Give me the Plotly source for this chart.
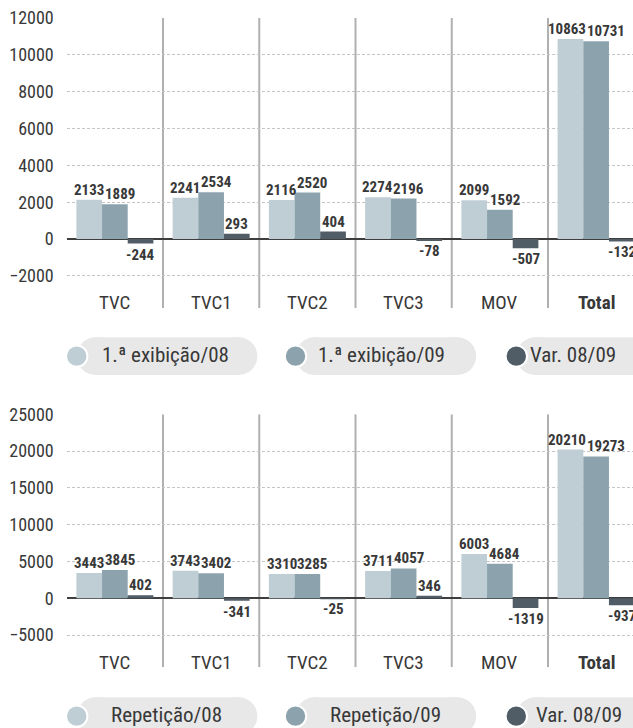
import plotly.graph_objects as go
from plotly.subplots import make_subplots

categories = ["TVC", "TVC1", "TVC2", "TVC3", "MOV", "Total"]
first_08 = [2133, 2241, 2116, 2274, 2099, 10863]
first_09 = [1889, 2534, 2520, 2196, 1592, 10731]
first_var = [-244, 293, 404, -78, -507, -132]
rep_08 = [3443, 3743, 3310, 3711, 6003, 20210]
rep_09 = [3845, 3402, 3285, 4057, 4684, 19273]
rep_var = [402, -341, -25, 346, -1319, -937]
legend_top = ["1.ª exibição/08", "1.ª exibição/09", "Var. 08/09"]
legend_bottom = ["Repetição/08", "Repetição/09", "Var. 08/09"]

W, H = 633, 728
FONT = "Roboto Condensed, DejaVu Sans Condensed, sans-serif"
TXT = "#383838"
COLORS = ["#bfcdd4", "#8ca3ae", "#505d66"]
CAT_W = 96.25          # px width of one category
BAR_W = CAT_W * 0.8 / 3


def px(x):
    return x / W


def py(y):
    return 1 - y / H


fig = make_subplots(rows=2, cols=1)
annotations = []

for row, series in ((1, [first_08, first_09, first_var]), (2, [rep_08, rep_09, rep_var])):
    xa = "x" if row == 1 else "x2"
    ya = "y" if row == 1 else "y2"
    for k, (vals, col) in enumerate(zip(series, COLORS)):
        fig.add_trace(go.Bar(
            x=categories, y=vals,
            marker=dict(color=col, line=dict(width=0)), showlegend=False,
        ), row=row, col=1)
        # value labels, nudged apart like the original
        for i, (c, v) in enumerate(zip(categories, vals)):
            shift = (k - 1) * BAR_W
            if k == 1:
                shift += 10 if c == "Total" else 5
            elif k == 0 and c == "Total":
                shift -= 3
            annotations.append(dict(
                x=c, y=v, xref=xa, yref=ya, text=str(v), showarrow=False,
                xanchor="center", yanchor="bottom" if v >= 0 else "top",
                xshift=shift, yshift=-1 if v >= 0 else 0,
                font=dict(family=FONT, size=15, color=TXT, weight="bold")))

xr = [-0.5, -0.5 + (633 - 66.75) / CAT_W]
axis_common = dict(showline=False, showgrid=False, zeroline=False, showticklabels=False,
                   ticks="", range=xr, domain=[px(66.75), 1], automargin=False)
fig.update_layout(
    xaxis=dict(**axis_common, anchor="y"),
    xaxis2=dict(**axis_common, anchor="y2"),
)
yc = dict(showline=False, showgrid=True, gridcolor="#c4c4c4", griddash="3px,2px", gridwidth=1,
          zeroline=True, zerolinecolor="#3e3e3e", zerolinewidth=2, tickformat="d", automargin=False,
          tickfont=dict(family=FONT, size=18, color=TXT), ticks="", ticklabelstandoff=12)
fig.update_layout(
    yaxis=dict(**yc, range=[-3745, 12000], dtick=2000, domain=[py(308), py(18)], anchor="x"),
    yaxis2=dict(**yc, range=[-9375, 25000], dtick=5000, domain=[py(667.3), py(414.3)], anchor="x2"),
)

shapes = []
# category dividers
for xa, ya, top, bot in (("x", "y", 12000, -3745), ("x2", "y2", 25000, -9375)):
    for i in range(len(categories) - 1):
        shapes.append(dict(type="line", xref=xa, yref=ya, x0=i + 0.5, x1=i + 0.5, y0=top, y1=bot,
                           line=dict(color="#b0b0b0", width=2), layer="below"))

# category labels
for xa, ylab in (("x", 302.5), ("x2", 662.5)):
    for i, c in enumerate(categories):
        label = f"<b>{c}</b>" if c == "Total" else c
        annotations.append(dict(x=i, xref=xa, y=py(ylab), yref="paper", text=label, showarrow=False,
                                xanchor="center", yanchor="middle",
                                font=dict(family=FONT, size=19, color=TXT)))

# legends (pills)
circle_cx = [76.7, 295.5, 516.3]
pill_w = 180.7
pill_h = 37.7
r_c = 10.7
for labels, pill_top, text_cx in ((legend_top, 337.3, [165.5, 381.5, 573]),
                                  (legend_bottom, 697.3, [166.7, 385, 579.3])):
    cy = pill_top + pill_h / 2
    rr = pill_h / 2
    for cx in circle_cx:
        x0, x1 = cx, cx + pill_w
        shapes.append(dict(type="rect", xref="paper", yref="paper", x0=px(x0 + rr), x1=px(x1 - rr),
                           y0=py(pill_top + pill_h), y1=py(pill_top), fillcolor="#e8e8e8",
                           line=dict(width=0)))
        for ex in (x0 + rr, x1 - rr):
            shapes.append(dict(type="circle", xref="paper", yref="paper", x0=px(ex - rr), x1=px(ex + rr),
                               y0=py(cy + rr), y1=py(cy - rr), fillcolor="#e8e8e8", line=dict(width=0)))
    for cx, col in zip(circle_cx, COLORS):
        shapes.append(dict(type="circle", xref="paper", yref="paper", x0=px(cx - r_c), x1=px(cx + r_c),
                           y0=py(cy + r_c), y1=py(cy - r_c), fillcolor=col,
                           line=dict(color="white", width=2)))
    for lab, tx in zip(labels, text_cx):
        annotations.append(dict(x=px(tx), y=py(cy - 1), xref="paper", yref="paper", text=lab,
                                showarrow=False, xanchor="center", yanchor="middle",
                                font=dict(family=FONT, size=21, color=TXT)))

fig.update_layout(
    width=W, height=H, autosize=False,
    margin=dict(l=0, r=0, t=0, b=0, pad=0, autoexpand=False),
    paper_bgcolor="white", plot_bgcolor="white",
    barmode="group", bargap=0.2, bargroupgap=0,
    shapes=shapes, annotations=annotations,
    font=dict(family=FONT, color=TXT),
)

fig.write_html("out.html", config={"displayModeBar": False},
               post_script="document.body.style.margin='0';document.body.style.overflow='hidden';")
